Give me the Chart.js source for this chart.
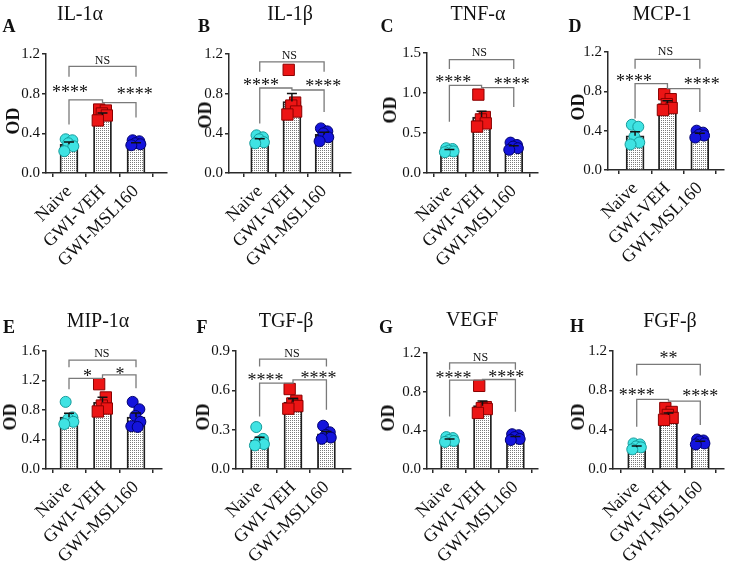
<!DOCTYPE html>
<html lang="en">
  <head>
    <meta charset="UTF-8" />
    <title>Cytokine OD by group</title>
    <script src="https://cdn.jsdelivr.net/npm/chart.js@4.4.1/dist/chart.umd.min.js"></script>
    <style>
      body { margin: 0; background: #fff; }
      #fig {
        position: relative; width: 733px; height: 568px; overflow: hidden;
        font-family: "Liberation Serif", serif; color: #111;
      }
      #fig canvas { position: absolute; }
      .lbl { position: absolute; transform: translate(-50%, -50%); white-space: nowrap; line-height: 1; }
      .title { font-size: 20px; }
      .letter { font-size: 18px; font-weight: bold; }
      .od { font-size: 18px; font-weight: bold; transform: translate(-50%, -50%) rotate(-90deg); }
    </style>
  </head>
  <body>
    <div id="fig"></div>

    <script>
      // ---- data ----
      const groups = ['Naive', 'GWI-VEH', 'GWI-MSL160'];
      const markers = ['IL-1α', 'IL-1β', 'TNF-α', 'MCP-1', 'MIP-1α', 'TGF-β', 'VEGF', 'FGF-β'];
      const letters = ['A', 'B', 'C', 'D', 'E', 'F', 'G', 'H'];
      const yMax = [1.2, 1.2, 1.5, 1.2, 1.6, 0.9, 1.2, 1.2];
      const yStep = [0.4, 0.4, 0.5, 0.4, 0.4, 0.3, 0.4, 0.4];

      // bar heights (group means), one row per panel
      const barMeans = [
        [0.29, 0.585, 0.297],
        [0.331, 0.72, 0.389],
        [0.283, 0.70, 0.325],
        [0.348, 0.676, 0.362],
        [0.703, 0.905, 0.703],
        [0.218, 0.51, 0.269],
        [0.30, 0.655, 0.326],
        [0.222, 0.549, 0.273],
      ];
      // individual animals
      const naivePts = [
        [0.34, 0.33, 0.30, 0.27, 0.22],
        [0.38, 0.36, 0.34, 0.31, 0.30],
        [0.31, 0.30, 0.28, 0.27, 0.26],
        [0.46, 0.44, 0.34, 0.28, 0.26],
        [0.91, 0.70, 0.68, 0.64, 0.61],
        [0.32, 0.23, 0.21, 0.19, 0.18],
        [0.33, 0.32, 0.30, 0.29, 0.28],
        [0.26, 0.25, 0.23, 0.22, 0.20],
      ];
      const vehPts = [
        [0.64, 0.63, 0.60, 0.58, 0.53],
        [1.04, 0.71, 0.68, 0.62, 0.59],
        [0.98, 0.70, 0.67, 0.62, 0.58],
        [0.77, 0.72, 0.67, 0.63, 0.61],
        [1.15, 0.97, 0.86, 0.82, 0.78],
        [0.61, 0.52, 0.50, 0.48, 0.46],
        [0.86, 0.64, 0.63, 0.62, 0.58],
        [0.62, 0.58, 0.55, 0.52, 0.50],
      ];
      const mslPts = [
        [0.33, 0.32, 0.30, 0.29, 0.28],
        [0.45, 0.42, 0.40, 0.36, 0.32],
        [0.38, 0.35, 0.33, 0.31, 0.29],
        [0.40, 0.38, 0.36, 0.35, 0.33],
        [0.91, 0.81, 0.72, 0.64, 0.58, 0.57],
        [0.33, 0.28, 0.26, 0.24, 0.23],
        [0.36, 0.35, 0.33, 0.31, 0.30],
        [0.30, 0.29, 0.28, 0.26, 0.25],
      ];
      const topSig = ['NS', 'NS', 'NS', 'NS', 'NS', 'NS', 'NS', '**'];
      const pairSig = ['****', '****', '****', '****', '*', '****', '****', '****'];

      // ---- annotation placement (in axis units) ----
      // top bracket: [bar y, leg bottom]; label [x, y]
      const topBracket = [[1.075, 0.97], [1.12, 1.02], [1.417, 1.30], [1.126, 1.03], [1.477, 1.378], [0.838, 0.782], [1.097, 1.028], [1.065, 0.95]];
      const topLabelAt = [[1.0, 1.135], [0.92, 1.19], [0.93, 1.51], [0.94, 1.21], [0.98, 1.568], [0.97, 0.883], [0.94, 1.159], [1.0, 1.16]];
      // pair bracket: [left y, left leg, right y, right leg]
      const pairBracket = [
        [0.737, 0.49, 0.71, 0.56], [0.857, 0.50, 0.837, 0.615], [1.096, 0.64, 1.067, 0.825], [0.879, 0.524, 0.828, 0.59],
        [1.23, 1.081, 1.275, 1.095], [0.655, 0.401, 0.68, 0.452], [0.919, 0.542, 0.926, 0.593], [0.709, 0.43, 0.69, 0.447],
      ];
      const starsL = [[0.03, 0.845], [0.04, 0.92], [0.12, 1.17], [-0.03, 0.94], [0.55, 1.297], [0.18, 0.70], [0.12, 0.97], [0.0, 0.786]];
      const starsR = [[1.96, 0.83], [1.97, 0.91], [1.94, 1.15], [2.06, 0.906], [1.52, 1.333], [1.76, 0.718], [1.72, 0.987], [2.0, 0.776]];

      // ---- page layout (px) ----
      const canvasBox = [
        [0, 0, 180, 280], [180, 0, 180, 280], [360, 0, 187, 280], [545, 0, 188, 280],
        [0, 280, 180, 288], [180, 280, 180, 288], [360, 280, 187, 288], [545, 280, 188, 288],
      ];
      // [y-axis x, x-axis end, top y, zero y, first group x, last group x]
      const plotBox = [
        [46, 167, 54, 173, 69, 136], [229, 356, 54, 173, 261, 328], [427, 546, 53, 173, 451, 520], [608, 728, 52, 170, 636, 703],
        [46, 162, 351, 469, 69, 136], [236, 353, 351, 469, 260, 328], [427, 540, 353, 469, 450, 517], [613, 730, 351, 469, 638, 705],
      ];
      const titleAt = [[80, 13], [290, 13], [478, 13], [662, 13], [98, 320], [286, 320], [472, 319], [670, 320]];
      const letterAt = [[9, 26], [204, 26], [387, 26], [575, 26], [9, 327], [202, 327], [386, 327], [577, 326]];
      const odAt = [[13, 121], [205, 115], [390, 110], [578, 107], [10, 417], [203, 417], [388, 418], [578, 417]];

      const jitter = [-0.1, 0.1, -0.02, 0.13, -0.14, 0.05];
      const styles = [
        { pointStyle: 'circle', r: 5.5, fill: '#3fe3e3', line: '#169b9b' },
        { pointStyle: 'rect', r: 8, fill: '#ec1515', line: '#8a0000' },
        { pointStyle: 'circle', r: 5.5, fill: '#1414dc', line: '#00006e' },
      ];
      const AXIS = '#2a2a2a';
      const FONT = '"Liberation Serif", serif';
      const Y_W = 34, X_H = 100;

      const fig = document.getElementById('fig');

      function dotPattern() {
        const c = document.createElement('canvas');
        c.width = 2; c.height = 2;
        const g = c.getContext('2d');
        g.fillStyle = '#fff'; g.fillRect(0, 0, 2, 2);
        g.fillStyle = '#7a7a7a'; g.fillRect(0, 0, 1, 1);
        return g.createPattern(c, 'repeat');
      }

      function sem(a) {
        const m = a.reduce((s, v) => s + v, 0) / a.length;
        const sd = Math.sqrt(a.reduce((s, v) => s + (v - m) ** 2, 0) / (a.length - 1));
        return sd / Math.sqrt(a.length);
      }

      const annot = {
        id: 'annot',
        afterDatasetsDraw(chart, args, o) {
          const { ctx, scales: { x, y } } = chart;
          const p = o.panel;
          const pts = [naivePts[p], vehPts[p], mslPts[p]];
          const X = v => x.getPixelForValue(v), Y = v => y.getPixelForValue(v);
          ctx.save();
          // SEM bars (upper half)
          ctx.strokeStyle = '#111';
          ctx.lineWidth = 1.5;
          pts.forEach((a, g) => {
            const m = barMeans[p][g], e = sem(a);
            ctx.beginPath();
            ctx.moveTo(X(g), Y(m)); ctx.lineTo(X(g), Y(m + e));
            ctx.moveTo(X(g) - 5, Y(m + e)); ctx.lineTo(X(g) + 5, Y(m + e));
            ctx.stroke();
          });
          // brackets
          ctx.strokeStyle = '#7a7a7a';
          ctx.lineWidth = 1.3;
          const [ty, tl] = topBracket[p];
          ctx.beginPath();
          ctx.moveTo(X(0), Y(tl)); ctx.lineTo(X(0), Y(ty)); ctx.lineTo(X(2), Y(ty)); ctx.lineTo(X(2), Y(tl));
          ctx.stroke();
          const [yl, ll, yr, lr] = pairBracket[p];
          ctx.beginPath();
          ctx.moveTo(X(0), Y(ll)); ctx.lineTo(X(0), Y(yl)); ctx.lineTo(X(1), Y(yl));
          ctx.lineTo(X(1), Y(yr)); ctx.lineTo(X(2), Y(yr)); ctx.lineTo(X(2), Y(lr));
          ctx.stroke();
          // labels
          ctx.fillStyle = '#111';
          ctx.textAlign = 'center';
          ctx.textBaseline = 'alphabetic';
          const lt = topLabelAt[p];
          if (topSig[p] === 'NS') {
            ctx.font = '12px ' + FONT;
            ctx.fillText('NS', X(lt[0]), Y(lt[1]) + 4);
          }
          ctx.font = '18px ' + FONT;
          if (topSig[p] !== 'NS') ctx.fillText(topSig[p], X(lt[0]), Y(lt[1]) + 9);
          ctx.fillText(pairSig[p], X(starsL[p][0]), Y(starsL[p][1]) + 9);
          ctx.fillText(pairSig[p], X(starsR[p][0]), Y(starsR[p][1]) + 9);
          ctx.restore();
        },
      };

      function addLabel(cls, text, at) {
        const d = document.createElement('div');
        d.className = 'lbl ' + cls;
        d.textContent = text;
        d.style.left = at[0] + 'px';
        d.style.top = at[1] + 'px';
        fig.appendChild(d);
      }

      markers.forEach((name, i) => {
        const [cl, ct, cw, ch] = canvasBox[i];
        const [ax, ex, ty, by, c0, c2] = plotBox[i];
        const step = (c2 - c0) / 2;
        const xMin = -(c0 - ax) / step;
        const xMax = 2 + (ex - c2) / step;

        const cv = document.createElement('canvas');
        cv.width = cw; cv.height = ch;
        cv.style.left = cl + 'px'; cv.style.top = ct + 'px';
        fig.appendChild(cv);

        const pts = [naivePts[i], vehPts[i], mslPts[i]];
        const scatterSets = pts.map((a, g) => ({
          type: 'scatter',
          data: a.map((v, k) => ({ x: g + jitter[k % jitter.length], y: v })),
          pointStyle: styles[g].pointStyle,
          pointRadius: styles[g].r,
          backgroundColor: styles[g].fill,
          borderColor: styles[g].line,
          borderWidth: 1,
          clip: false,
          order: 1,
        }));

        new Chart(cv, {
          type: 'bar',
          data: {
            datasets: [
              {
                data: barMeans[i].map((v, g) => ({ x: g, y: v })),
                backgroundColor: dotPattern(),
                borderColor: '#1e1e1e',
                borderWidth: 1.8,
                barThickness: 18,
                order: 2,
              },
              ...scatterSets,
            ],
          },
          options: {
            responsive: false,
            animation: false,
            devicePixelRatio: 1,
            layout: {
              padding: { left: ax - cl - Y_W, right: cl + cw - ex, top: ty - ct, bottom: ct + ch - by - X_H },
            },
            plugins: { legend: { display: false }, tooltip: { enabled: false }, annot: { panel: i } },
            scales: {
              x: {
                type: 'linear',
                min: xMin,
                max: xMax,
                offset: false,
                afterBuildTicks: sc => { sc.ticks = groups.map((_, k) => ({ value: k })); },
                afterFit: sc => { sc.height = X_H; },
                grid: { display: true, drawOnChartArea: false, drawTicks: true, tickLength: 4, color: AXIS, lineWidth: 1.5 },
                border: { display: true, color: AXIS, width: 1.5 },
                ticks: {
                  autoSkip: false,
                  minRotation: 45,
                  maxRotation: 45,
                  padding: 4,
                  color: '#111',
                  font: { family: FONT, size: 18 },
                  callback: v => groups[v],
                },
              },
              y: {
                min: 0,
                max: yMax[i],
                afterFit: sc => { sc.width = Y_W; },
                grid: { display: true, drawOnChartArea: false, drawTicks: true, tickLength: 4, color: AXIS, lineWidth: 1.5 },
                border: { display: true, color: AXIS, width: 1.5 },
                ticks: {
                  stepSize: yStep[i],
                  padding: 2,
                  color: '#111',
                  font: { family: FONT, size: 15 },
                  callback: v => v.toFixed(1),
                },
              },
            },
          },
          plugins: [annot],
        });

        addLabel('title', name, titleAt[i]);
        addLabel('letter', letters[i], letterAt[i]);
        addLabel('od', 'OD', odAt[i]);
      });
    </script>
  </body>
</html>
